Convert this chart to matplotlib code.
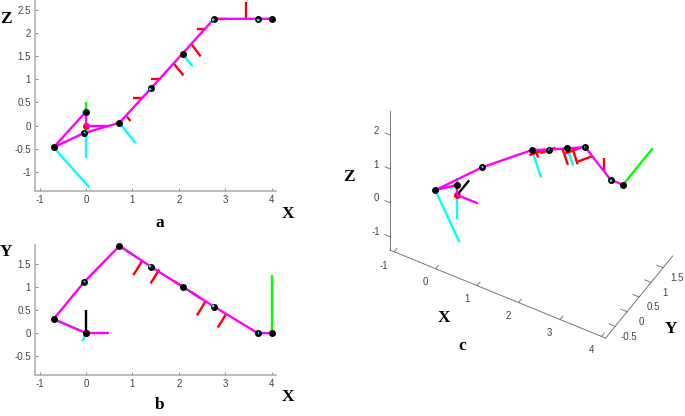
import matplotlib
matplotlib.use('Agg')
import matplotlib.pyplot as plt
from mpl_toolkits.mplot3d import proj3d

plt.rcParams['axes.unicode_minus'] = False
plt.rcParams['font.family'] = ['Liberation Sans', 'DejaVu Sans']

W, H = 685, 416

# skeleton joints in drawing order, root is separate
joint_x = [0.0, -0.7, -0.04, 0.72, 1.4, 2.08, 2.76, 3.7, 4.0]
joint_y = [0.0, 0.3, 1.1, 1.88, 1.43, 1.0, 0.57, 0.0, 0.0]
joint_z = [0.3, -0.47, -0.16, 0.06, 0.8, 1.55, 2.3, 2.3, 2.3]

# each segment is (x0, y0, z0, x1, y1, z1)
magenta_segs = [(0.0, 0.0, 0.0, 0.5, 0.0, 0.0), (0.0, 0.0, 0.0, 0.0, 0.0, 0.3)]
red_segs = [
    (0.88, 1.77, 0.19, 0.96, 1.72, 0.1),
    (1.22, 1.57, 0.6, 1.02, 1.25, 0.6),
    (1.58, 1.37, 1.0, 1.39, 1.07, 1.0),
    (1.88, 1.13, 1.35, 2.1, 0.99, 1.08),
    (2.26, 0.89, 1.77, 2.47, 0.75, 1.49),
    (2.58, 0.69, 2.09, 2.39, 0.38, 2.09),
    (3.02, 0.41, 2.3, 2.84, 0.12, 2.3),
    (3.44, 0.16, 2.3, 3.44, 0.16, 2.66),
]
cyan_segs = [
    (0.0, 0.0, 0.0, 0.0, 0.0, -0.7),
    (0.0, 0.0, 0.3, -0.08, -0.18, 0.3),
    (-0.7, 0.3, -0.47, 0.07, -0.03, -1.33),
    (0.72, 1.88, 0.06, 1.07, 1.65, -0.38),
    (2.08, 1.0, 1.55, 2.3, 0.86, 1.27),
]
cyan_stubs = [
    (1.4, 1.43, 0.8, 1.36, 1.46, 0.77),
    (2.76, 0.57, 2.3, 2.72, 0.6, 2.26),
    (3.7, 0.0, 2.3, 3.72, 0.0, 2.25),
    (-0.04, 1.1, -0.16, -0.02, 1.12, -0.14),
]
green_segs = [(0.0, 0.0, 0.3, 0.0, 0.0, 0.5), (4.0, 0.0, 2.3, 4.0, 1.25, 2.3)]
black_segs = [(0.0, 0.0, 0.0, 0.0, 0.5, 0.0)]
root = (0.0, 0.0, 0.0)

x_ticks = [-1, 0, 1, 2, 3, 4]
z_ticks = [-1, -0.5, 0, 0.5, 1, 1.5, 2, 2.5]
y_ticks = [-0.5, 0, 0.5, 1, 1.5]
z_ticks_c = [-1, 0, 1, 2]
y_ticks_c = [-0.5, 0, 0.5, 1, 1.5]

MAGENTA = '#ff00ff'
RED = '#ff0000'
CYAN = '#00ffff'
GREEN = '#00ff00'
LW = 1.7
MS = 5


def px_axes(fig, left, top, right, bottom, **kw):
    return fig.add_axes([left / W, 1 - bottom / H, (right - left) / W, (bottom - top) / H], **kw)


def label(fig, x, y, s):
    fig.text(x / W, 1 - y / H, s, family='Liberation Serif', weight='bold', size=12.5,
             ha='center', va='center', color='black')


def draw_2d(ax, a, b):
    # a and b are indexes 0,1,2 into x,y,z of a segment
    def segs(lst, color, z):
        for s in lst:
            ax.plot([s[a], s[a + 3]], [s[b], s[b + 3]], color=color, lw=LW, zorder=z,
                    solid_capstyle='butt', clip_on=False)
    pts = [joint_x, joint_y, joint_z]
    segs(cyan_segs, CYAN, 2)
    segs(green_segs, GREEN, 2)
    segs(black_segs, 'black', 2)
    segs(red_segs, RED, 2)
    ax.plot(root[a], root[b], 'o', color=RED, ms=MS, mew=0, zorder=2, clip_on=False)
    segs(magenta_segs, MAGENTA, 3)
    ax.plot(pts[a], pts[b], color=MAGENTA, lw=LW, zorder=3, clip_on=False)
    ax.plot(pts[a], pts[b], 'o', color='black', ms=MS, mew=0, zorder=4, clip_on=False)
    segs(cyan_stubs, CYAN, 5)


def style_2d(ax):
    for side in ['top', 'right']:
        ax.spines[side].set_visible(False)
    for side in ['left', 'bottom']:
        ax.spines[side].set_color('#b0b0b0')
        ax.spines[side].set_linewidth(1.2)
    ax.tick_params(direction='in', length=2.5, width=0.5, color='#555555',
                   labelsize=7, labelcolor='#444444', pad=3)
    ax.set_xlim(-1.1, 4.095)
    ax.set_xticks(x_ticks)
    ax.set_xticklabels([str(t) for t in x_ticks])
    ax.patch.set_alpha(0)


fig = plt.figure(figsize=(W / 100, H / 100), dpi=100)

ax_a = px_axes(fig, 35, 0, 276, 191)
draw_2d(ax_a, 0, 2)
style_2d(ax_a)
ax_a.set_ylim(-1.41, 2.705)
ax_a.set_yticks(z_ticks)
ax_a.set_yticklabels([f'{t:g}' for t in z_ticks])

ax_b = px_axes(fig, 35, 244.5, 276, 375)
draw_2d(ax_b, 0, 1)
style_2d(ax_b)
ax_b.set_ylim(-0.905, 1.91)
ax_b.set_yticks(y_ticks)
ax_b.set_yticklabels([f'{t:g}' for t in y_ticks])

# panel c, orthographic view with equal units
ax_c = fig.add_axes([(527 - 160) / W, 1 - (188 + 160) / H, 320 / W, 320 / H],
                    projection='3d', proj_type='ortho')
ax_c.patch.set_alpha(0)
ax_c.view_init(elev=45, azim=-60)
ax_c.set_xlim(-1.1, 4.1)
ax_c.set_ylim(-0.9, 1.9)
ax_c.set_zlim(-1.4, 2.7)
ax_c.set_box_aspect((5.2, 2.8, 4.1), zoom=1.044)


def segs3d(lst, color, z):
    for s in lst:
        ax_c.plot([s[0], s[3]], [s[1], s[4]], [s[2], s[5]], color=color, lw=LW, zorder=z,
                  solid_capstyle='butt')


segs3d(cyan_segs, CYAN, 2)
segs3d(green_segs, GREEN, 2)
segs3d(black_segs, 'black', 3)
segs3d(red_segs, RED, 2)
ax_c.plot([root[0]], [root[1]], [root[2]], 'o', color=RED, ms=MS, mew=0, zorder=2)
segs3d(magenta_segs, MAGENTA, 3)
ax_c.plot(joint_x, joint_y, joint_z, color=MAGENTA, lw=LW, zorder=3)
ax_c.plot(joint_x, joint_y, joint_z, 'o', color='black', ms=MS, mew=0, zorder=4)
segs3d(cyan_stubs, CYAN, 5)

ax_c.grid(False)
for axis in [ax_c.xaxis, ax_c.yaxis, ax_c.zaxis]:
    axis.set_pane_color((1, 1, 1, 0))
    axis.pane.set_edgecolor((1, 1, 1, 0))
    axis.line.set_color('#777777')
    axis.line.set_linewidth(0.7)
ax_c.zaxis.set_ticks_position('lower')
ax_c.zaxis.set_label_position('lower')
ax_c.set_xticks([])
ax_c.set_yticks([])
ax_c.set_zticks([])


def tick_label(x, y, z, t):
    # plain 2d text at the projected spot
    px, py, _ = proj3d.proj_transform(x, y, z, ax_c.get_proj())
    ax_c.text2D(px, py, f'{t:g}', transform=ax_c.transData, size=7, color='#444444',
                ha='center', va='center')


# ticks and labels by hand in data space, the 3d axis pad cant put them where they belong
tick_line = dict(color='#666666', lw=0.6)
for t in x_ticks:
    ax_c.plot([t, t], [-0.9, -0.78], [-1.4, -1.4], **tick_line)
    tick_label(t, -1.335, -1.43, t)
for t in y_ticks_c:
    ax_c.plot([4.1, 3.95], [t, t], [-1.4, -1.4], **tick_line)
    tick_label(4.44, t, -1.53, t)
for t in z_ticks_c:
    ax_c.plot([-1.1, -1.22], [-0.9, -0.9], [t, t], **tick_line)
    tick_label(-1.43, -0.9, t - 0.04, t)

label(fig, 6, 19, 'Z')
label(fig, 288, 214, 'X')
label(fig, 160, 223, 'a')
label(fig, 6, 252, 'Y')
label(fig, 288, 397, 'X')
label(fig, 160, 405, 'b')
label(fig, 349, 177, 'Z')
label(fig, 444, 318, 'X')
label(fig, 671, 329, 'Y')
label(fig, 462, 346, 'c')

fig.savefig('out.png', dpi=100)
